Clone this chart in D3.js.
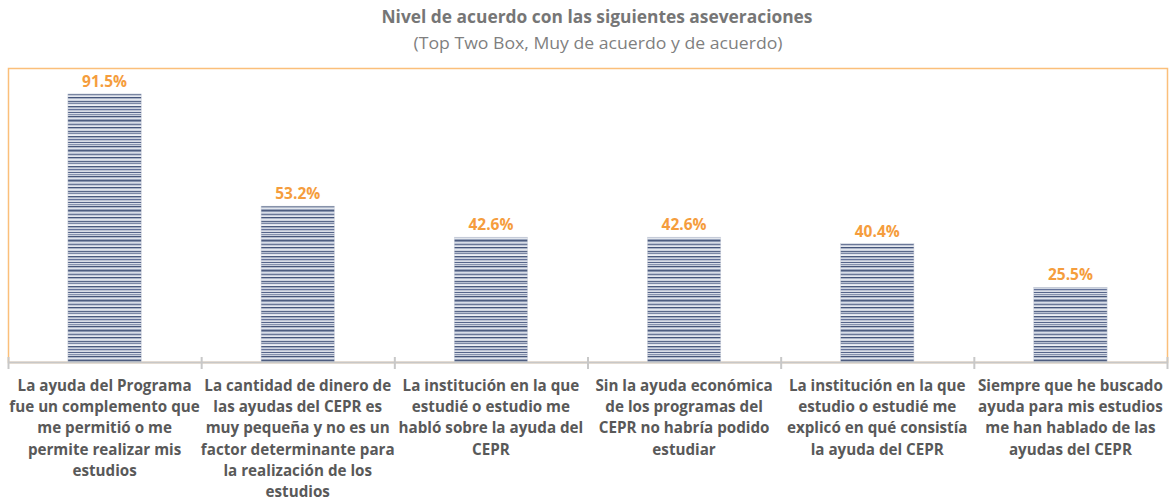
<!DOCTYPE html>
<html><head><meta charset="utf-8">
<script src="https://cdn.jsdelivr.net/npm/d3@7"></script>
<style>body{margin:0;background:#fff}svg{display:block}</style>
</head><body>
<svg id="c" width="1175" height="504"></svg>
<script>
const categories = [
  ["La ayuda del Programa","fue un complemento que","me permitió o me","permite realizar mis","estudios"],
  ["La cantidad de dinero de","las ayudas del CEPR es","muy pequeña y no es un","factor determinante para","la realización de los","estudios"],
  ["La institución en la que","estudié o estudio me","habló sobre la ayuda del","CEPR"],
  ["Sin la ayuda económica","de los programas del","CEPR no habría podido","estudiar"],
  ["La institución en la que","estudio o estudié me","explicó en qué consistía","la ayuda del CEPR"],
  ["Siempre que he buscado","ayuda para mis estudios","me han hablado de las","ayudas del CEPR"]
];
const values = [91.5, 53.2, 42.6, 42.6, 40.4, 25.5];
const valueLabels = ["91.5%","53.2%","42.6%","42.6%","40.4%","25.5%"];
const title = "Nivel de acuerdo con las siguientes aseveraciones";
const subtitle = "(Top Two Box, Muy de acuerdo y de acuerdo)";

const svg = d3.select("#c");
const pLeft = 8, pRight = 1167, pTop = 68, pBase = 362;

// pattern
const defs = svg.append("defs");
const pat = defs.append("pattern").attr("id","stripes").attr("patternUnits","userSpaceOnUse")
  .attr("width",10).attr("height",30);
const stripeCols = ["#4e5d80","#8a96b0","#d8dde7","#b9c1d2","#6b7898","#c3cad9","#e6e9ef","#45557a",
                    "#aab3c7","#e3e7ee","#cdd3df","#5a6889","#b8c0d1","#7d89a6","#dfe3eb","#eef0f4",
                    "#4a5a7e","#a3adc2","#cfd5e1","#65739a","#bcc3d3","#d9dde6","#56658a","#dadfe8",
                    "#8692ad","#c9cfdc","#475679","#b0b9cb","#e1e5ec","#9aa5bc"];
stripeCols.forEach((c,i)=>pat.append("rect").attr("x",0).attr("y",i).attr("width",10).attr("height",1).attr("fill",c));

// border
svg.append("rect").attr("x",pLeft+0.5).attr("y",pTop+0.5).attr("width",pRight-pLeft).attr("height",pBase-pTop)
  .attr("fill","none").attr("stroke","#fbbf7a").attr("stroke-width",1.5);

const x = d3.scaleBand().domain(d3.range(categories.length)).range([pLeft, pRight]).paddingInner(0.62).paddingOuter(0.31);
const xt = d3.scaleLinear().domain([0, categories.length]).range([pLeft, pRight]);
const y = d3.scaleLinear().domain([0,100]).range([pBase, pBase-293]);

svg.selectAll("rect.bar").data(values).join("rect").attr("class","bar")
  .attr("x",(d,i)=>x(i)).attr("width",x.bandwidth())
  .attr("y",d=>y(d)).attr("height",d=>pBase-y(d))
  .attr("fill","url(#stripes)").attr("stroke","#cfd4de").attr("stroke-width",0.5);

// axis
svg.append("line").attr("x1",pLeft).attr("x2",pRight+1).attr("y1",pBase+0.5).attr("y2",pBase+0.5)
  .attr("stroke","#c8c8c8").attr("stroke-width",2);
svg.selectAll("line.tick").data(d3.range(categories.length+1)).join("line").attr("class","tick")
  .attr("x1",d=>xt(d)+0.5).attr("x2",d=>xt(d)+0.5).attr("y1",pBase-5).attr("y2",pBase+7)
  .attr("stroke","#c8c8c8").attr("stroke-width",2);

// value labels
svg.selectAll("text.val").data(values).join("text").attr("class","val")
  .attr("x",(d,i)=>x(i)+x.bandwidth()/2).attr("y",d=>y(d)-7)
  .attr("text-anchor","middle").attr("font-family","Open Sans, sans-serif").attr("font-weight","bold")
  .attr("font-size",15.5).attr("fill","#f59d3d").text((d,i)=>valueLabels[i]);

// category labels
const cl = svg.selectAll("text.cat").data(categories).join("text").attr("class","cat")
  .attr("text-anchor","middle").attr("font-family","Open Sans, sans-serif").attr("font-weight","bold")
  .attr("font-size",15.2).attr("fill","#595959");
cl.each(function(lines,i){
  const t = d3.select(this);
  lines.forEach((ln,j)=>t.append("tspan").attr("x",x(i)+x.bandwidth()/2).attr("y",391+j*21.2).text(ln));
});

// titles
svg.append("text").attr("x",597).attr("y",23).attr("text-anchor","middle")
  .attr("font-family","Open Sans, sans-serif").attr("font-weight","bold").attr("font-size",17)
  .attr("fill","#767676").attr("textLength",431).attr("lengthAdjust","spacingAndGlyphs").text(title);
svg.append("text").attr("x",598).attr("y",49).attr("text-anchor","middle")
  .attr("font-family","Open Sans, sans-serif").attr("font-weight","normal").attr("font-size",17)
  .attr("fill","#7f7f7f").attr("textLength",369).attr("lengthAdjust","spacingAndGlyphs").text(subtitle);
</script>
</body></html>
